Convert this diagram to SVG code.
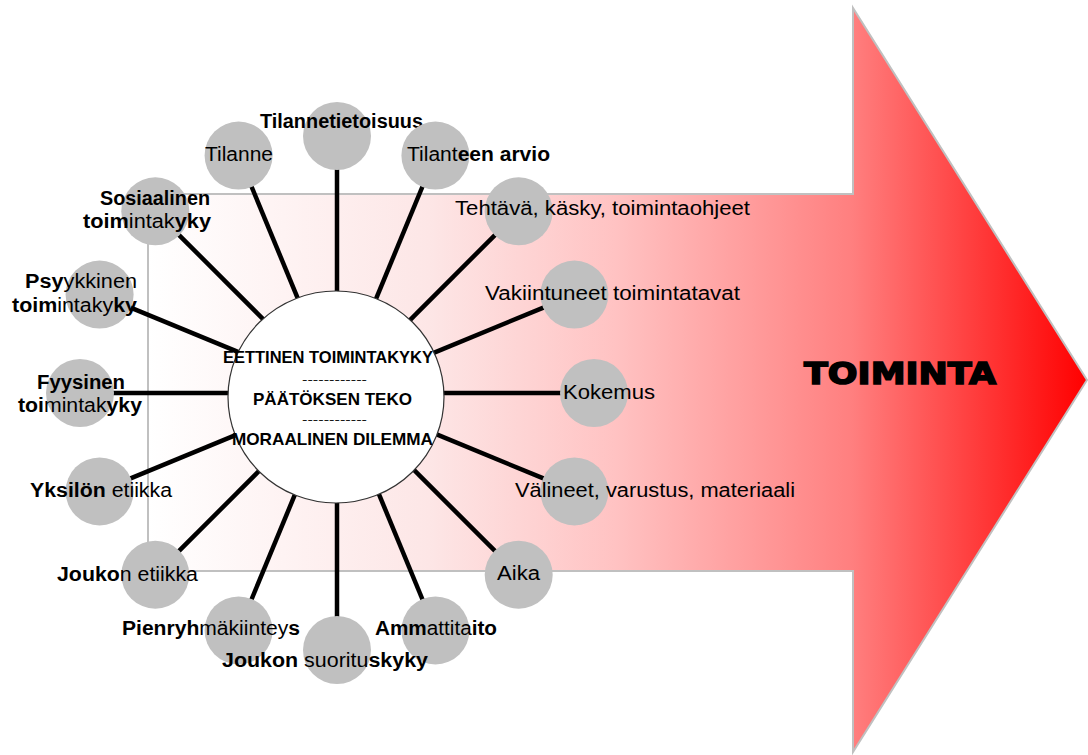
<svg xmlns="http://www.w3.org/2000/svg" width="1088" height="755" viewBox="0 0 1088 755">
<defs>
<linearGradient id="arrowGrad" gradientUnits="userSpaceOnUse" x1="148" y1="0" x2="1087" y2="0">
<stop offset="0" stop-color="#ffffff"/>
<stop offset="0.3" stop-color="#fde6e6"/>
<stop offset="0.5" stop-color="#ffc2c2"/>
<stop offset="0.75" stop-color="#ff7f7f"/>
<stop offset="1" stop-color="#ff0000"/>
</linearGradient>
<style>
.sat{fill:#c0c0c0;stroke:none}
.conn line{stroke:#000;stroke-width:4.5;stroke-linecap:butt}
.lbl{font-family:"Liberation Sans",Arial,sans-serif;font-size:19.5px;fill:#000}
.b{font-weight:bold}
.ctr{font-family:"Liberation Sans",Arial,sans-serif;font-size:17px;font-weight:bold;fill:#000}
.dash{font-family:"Liberation Sans",Arial,sans-serif;font-size:11px;fill:#000}
</style>
</defs>
<rect width="1088" height="755" fill="#ffffff"/>
<g id="arrow">
<polygon points="148,194 853,194 853,8 1087,380 853,752 853,571 148,571" fill="url(#arrowGrad)" stroke="#c0c0c0" stroke-width="2"/>
<text x="804" y="384" font-family="'DejaVu Sans',sans-serif" font-size="31" font-weight="bold" textLength="192" lengthAdjust="spacingAndGlyphs" fill="#000" stroke="#000" stroke-width="1.6">TOIMINTA</text>
</g>
<g id="connectors" class="conn">
<line x1="337" y1="293" x2="337" y2="169"/>
<line x1="375.3" y1="300.6" x2="422.7" y2="186"/>
<line x1="407.7" y1="322.3" x2="495.4" y2="234.6"/>
<line x1="429.4" y1="354.7" x2="544" y2="307.3"/>
<line x1="437" y1="393" x2="561" y2="393"/>
<line x1="429.4" y1="431.3" x2="544" y2="478.7"/>
<line x1="407.7" y1="463.7" x2="495.4" y2="551.4"/>
<line x1="375.3" y1="485.4" x2="422.7" y2="600"/>
<line x1="337" y1="493" x2="337" y2="617"/>
<line x1="298.7" y1="485.4" x2="251.3" y2="600"/>
<line x1="266.3" y1="463.7" x2="178.6" y2="551.4"/>
<line x1="244.6" y1="431.3" x2="130" y2="478.7"/>
<line x1="237" y1="393" x2="113" y2="393"/>
<line x1="244.6" y1="354.7" x2="130" y2="307.3"/>
<line x1="266.3" y1="322.3" x2="178.6" y2="234.6"/>
<line x1="298.7" y1="300.6" x2="251.3" y2="186"/>
</g>
<g id="center">
<ellipse cx="336" cy="397" rx="108" ry="106" fill="#ffffff" stroke="#333" stroke-width="1.2"/>
<text class="ctr" x="223" y="363" textLength="210" lengthAdjust="spacingAndGlyphs">EETTINEN TOIMINTAKYKY</text>
<text class="dash" x="302" y="383" textLength="65" lengthAdjust="spacingAndGlyphs">------------</text>
<text class="ctr" x="253" y="405" textLength="159" lengthAdjust="spacingAndGlyphs">PÄÄTÖKSEN TEKO</text>
<text class="dash" x="302" y="423" textLength="65" lengthAdjust="spacingAndGlyphs">------------</text>
<text class="ctr" x="232" y="445" textLength="201" lengthAdjust="spacingAndGlyphs">MORAALINEN DILEMMA</text>
</g>
<g id="n-tilannetietoisuus"><circle class="sat" cx="337" cy="136" r="34"/><text class="lbl b" x="260" y="128" textLength="163" lengthAdjust="spacingAndGlyphs">Tilannetietoisuus</text></g>
<g id="n-tilanne"><circle class="sat" cx="238.6" cy="155.6" r="34"/><text class="lbl" x="205" y="161" textLength="68" lengthAdjust="spacingAndGlyphs">Tilanne</text></g>
<g id="n-tilanteen-arvio"><circle class="sat" cx="435.4" cy="155.6" r="34"/><text class="lbl" x="407" y="161" textLength="143" lengthAdjust="spacingAndGlyphs">Tilant<tspan class="b">een arvio</tspan></text></g>
<g id="n-tehtava"><circle class="sat" cx="518.7" cy="211.3" r="34"/><text class="lbl" x="455" y="215" textLength="295" lengthAdjust="spacingAndGlyphs">Tehtävä, käsky, toimintaohjeet</text></g>
<g id="n-vakiintuneet"><circle class="sat" cx="574.4" cy="294.6" r="34"/><text class="lbl" x="485" y="300" textLength="255" lengthAdjust="spacingAndGlyphs">Vakiintuneet toimintatavat</text></g>
<g id="n-kokemus"><circle class="sat" cx="594" cy="393" r="34"/><text class="lbl" x="563" y="399" textLength="92" lengthAdjust="spacingAndGlyphs">Kokemus</text></g>
<g id="n-valineet"><circle class="sat" cx="574.4" cy="491.4" r="34"/><text class="lbl" x="515" y="497" textLength="280" lengthAdjust="spacingAndGlyphs">Välineet, varustus, materiaali</text></g>
<g id="n-aika"><circle class="sat" cx="518.7" cy="574.7" r="34"/><text class="lbl" x="497" y="580" textLength="43" lengthAdjust="spacingAndGlyphs">Aika</text></g>
<g id="n-ammattitaito"><circle class="sat" cx="435.4" cy="630.4" r="34"/><text class="lbl" x="375" y="635" textLength="122" lengthAdjust="spacingAndGlyphs"><tspan class="b">Amm</tspan>attita<tspan class="b">ito</tspan></text></g>
<g id="n-pienryhmakiinteys"><circle class="sat" cx="238.6" cy="630.4" r="34"/><text class="lbl" x="122" y="635" textLength="178" lengthAdjust="spacingAndGlyphs"><tspan class="b">Pienryh</tspan>mäkiintey<tspan class="b">s</tspan></text></g>
<g id="n-joukon-etiikka"><circle class="sat" cx="155.3" cy="574.7" r="34"/><text class="lbl" x="57" y="581" textLength="141" lengthAdjust="spacingAndGlyphs"><tspan class="b">Jouko</tspan>n etiikka</text></g>
<g id="n-yksilon-etiikka"><circle class="sat" cx="99.6" cy="491.4" r="34"/><text class="lbl" x="30" y="497" textLength="142" lengthAdjust="spacingAndGlyphs"><tspan class="b">Yksilön </tspan>etiikka</text></g>
<g id="n-fyysinen"><circle class="sat" cx="80" cy="393" r="34"/><text class="lbl" x="37" y="389" textLength="88" lengthAdjust="spacingAndGlyphs"><tspan class="b">Fyysinen</tspan></text><text class="lbl" x="18" y="412" textLength="124" lengthAdjust="spacingAndGlyphs"><tspan class="b">toi</tspan>mintak<tspan class="b">yky</tspan></text></g>
<g id="n-psyykkinen"><circle class="sat" cx="99.6" cy="294.6" r="34"/><text class="lbl" x="25" y="288" textLength="112" lengthAdjust="spacingAndGlyphs"><tspan class="b">Psy</tspan>ykkinen</text><text class="lbl" x="12" y="312" textLength="125" lengthAdjust="spacingAndGlyphs"><tspan class="b">toim</tspan>intaky<tspan class="b">ky</tspan></text></g>
<g id="n-sosiaalinen"><circle class="sat" cx="155.3" cy="211.3" r="34"/><text class="lbl b" x="100" y="205" textLength="110" lengthAdjust="spacingAndGlyphs">Sosiaalinen</text><text class="lbl" x="83" y="228" textLength="128" lengthAdjust="spacingAndGlyphs"><tspan class="b">toim</tspan>intak<tspan class="b">yky</tspan></text></g>
<g id="n-joukon-suorituskyky"><circle class="sat" cx="337" cy="650" r="34"/><text class="lbl" x="222" y="667" textLength="206" lengthAdjust="spacingAndGlyphs"><tspan class="b">Joukon </tspan>suoritu<tspan class="b">skyky</tspan></text></g>
</svg>
